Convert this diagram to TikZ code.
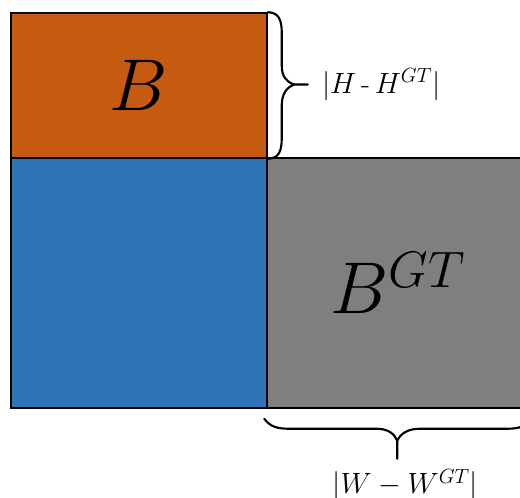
\documentclass[tikz,border=0pt]{standalone}
\usepackage{fix-cm}
\usetikzlibrary{calc}
\definecolor{boxorange}{HTML}{C55A11}
\definecolor{boxblue}{HTML}{2E75B6}
\definecolor{boxgray}{HTML}{7F7F7F}
\begin{document}
\begin{tikzpicture}[x=0.75pt,y=-0.75pt,
  box/.style={draw=black, line width=1.1pt, rectangle, inner sep=0pt},
  bracepath/.style={draw=black, line width=1.6pt, line cap=round, line join=round},
  bigtext/.style={font=\fontsize{55}{60}\selectfont},
  labeltext/.style={font=\fontsize{22}{26}\selectfont, inner sep=0pt}]
\useasboundingbox (0,0) rectangle (520,497);
\clip (0,0) rectangle (520,497);
\node[box, fill=boxblue, minimum width=192pt, minimum height=187.5pt] (blue) at (139,283) {};
\node[box, fill=boxgray, minimum width=196.5pt, minimum height=187.5pt, bigtext] (gray) at (398,283) {$B^{GT}$};
\node[box, fill=boxorange, minimum width=192pt, minimum height=108.75pt, bigtext] (orange) at (139,85.5) {$B$};
% right brace
\draw[bracepath] (orange.north east) .. controls +(11,0) and +(0,-12) .. ++(14,20) -- ++(0,33) .. controls +(0,12) and +(-7,-3) .. ++(12,19.25) coordinate (rtip) -- ++(14,0) coordinate (rstem);
\draw[bracepath] (orange.south east) .. controls +(11,0) and +(0,12) .. ++(14,-20) -- ++(0,-33) .. controls +(0,-12) and +(-7,3) .. (rtip);
\node[labeltext, anchor=west] (hlabel) at ($(rstem)+(14,0)$) {$|H$\,-\,$H^{GT}|$};
% bottom brace
\draw[bracepath] ($(gray.south west)+(-2,10)$) .. controls +(6,8) and +(-12,0) .. ++(25,10) -- ++(87,0) .. controls +(12,0) and +(-3,-7) .. ++(21,12) coordinate (btip) -- ++(0,18) coordinate (bstem);
\draw[bracepath] ($(gray.south east)+(2,10)$) .. controls +(-6,8) and +(12,0) .. ++(-25,10) -- ++(-87,0) .. controls +(-12,0) and +(3,-7) .. (btip);
\node[labeltext, anchor=north] (wlabel) at ($(bstem)+(8,10)$) {$|W - W^{GT}|$};
\end{tikzpicture}
\end{document}
